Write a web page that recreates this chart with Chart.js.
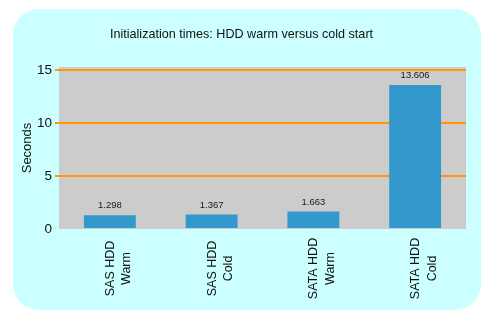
<!DOCTYPE html>
<html>
<head>
<meta charset="utf-8">
<script src="https://cdn.jsdelivr.net/npm/chart.js@4"></script>
<style>
  html, body { margin: 0; padding: 0; background: #ffffff; }
  #wrap { position: relative; width: 492px; height: 322px; }
  #bg { position: absolute; left: 13px; top: 9px; width: 468px; height: 301px; border-radius: 26px; background: #CCFFFF; }
  canvas { position: absolute; left: 0; top: 0; }
</style>
</head>
<body>
<div id="wrap"><div id="bg"></div><canvas id="c" width="492" height="322"></canvas></div>
<script>
const titleText = "Initialization times: HDD warm versus cold start";
const yAxisTitle = "Seconds";
const categories = [["SAS HDD", "Warm"], ["SAS HDD", "Cold"], ["SATA HDD", "Warm"], ["SATA HDD", "Cold"]];
const seconds = [1.298, 1.367, 1.663, 13.606];
const valueLabels = ["1.298", "1.367", "1.663", "13.606"];
const yTicks = [0, 5, 10, 15];

const FONT = "'Liberation Sans', Arial, sans-serif";

const plotBg = {
  id: 'plotBg',
  beforeDraw(chart) {
    const {ctx, chartArea: a} = chart;
    ctx.save();
    ctx.fillStyle = '#CCCCCC';
    ctx.fillRect(a.left, a.top, a.right - a.left, a.bottom - a.top);
    ctx.restore();
  }
};

const extras = {
  id: 'extras',
  afterDraw(chart) {
    const {ctx} = chart;
    const xs = chart.scales.x;
    const meta = chart.getDatasetMeta(0);
    ctx.save();
    // value labels
    ctx.fillStyle = '#1a1a1a';
    ctx.font = '9.5px ' + FONT;
    ctx.textAlign = 'center';
    ctx.textBaseline = 'middle';
    meta.data.forEach((bar, i) => {
      ctx.fillText(valueLabels[i], bar.x, bar.y - 9.5);
    });
    // category labels, rotated
    ctx.font = '12.5px ' + FONT;
    ctx.fillStyle = '#111';
    categories.forEach((lines, i) => {
      const cx = xs.getPixelForValue(i);
      lines.forEach((t, j) => {
        ctx.save();
        ctx.translate(cx + 0.5 + j * 16.5, 268.5);
        ctx.rotate(-Math.PI / 2);
        ctx.textAlign = 'center';
        ctx.textBaseline = 'middle';
        ctx.fillText(t, 0, 0);
        ctx.restore();
      });
    });
    // y axis title
    ctx.save();
    ctx.font = '13px ' + FONT;
    ctx.translate(27, 148);
    ctx.rotate(-Math.PI / 2);
    ctx.textAlign = 'center';
    ctx.textBaseline = 'middle';
    ctx.fillText(yAxisTitle, 0, 0);
    ctx.restore();
    ctx.restore();
  }
};

new Chart(document.getElementById('c'), {
  type: 'bar',
  data: {
    labels: categories,
    datasets: [{
      data: seconds,
      backgroundColor: '#3399CC',
      borderWidth: 0,
      categoryPercentage: 1,
      barPercentage: 0.51
    }]
  },
  options: {
    responsive: false,
    animation: false,
    devicePixelRatio: 1,
    layout: { padding: { left: 17, right: 26, top: 0, bottom: 0 } },
    plugins: {
      legend: { display: false },
      tooltip: { enabled: false },
      title: {
        display: true,
        text: titleText,
        color: '#111',
        font: { family: FONT, size: 12.6, weight: 'normal', lineHeight: 1.2 },
        padding: { top: 26.5, bottom: 25.4 }
      }
    },
    scales: {
      x: {
        grid: { display: false },
        border: { display: false },
        ticks: { display: false },
        afterFit(s) { s.height = 93; }
      },
      y: {
        min: 0,
        max: 15.3,
        afterBuildTicks(s) { s.ticks = yTicks.map(v => ({ value: v })); },
        afterFit(s) { s.width = 42; },
        border: { display: false },
        grid: {
          color: c => (c.tick && c.tick.value === 0) ? 'rgba(0,0,0,0)' : '#FF9900',
          lineWidth: 2,
          tickLength: 4,
          drawTicks: true
        },
        ticks: {
          color: '#111',
          font: { family: FONT, size: 13.5 },
          padding: 3
        }
      }
    }
  },
  plugins: [plotBg, extras]
});
</script>
</body>
</html>
